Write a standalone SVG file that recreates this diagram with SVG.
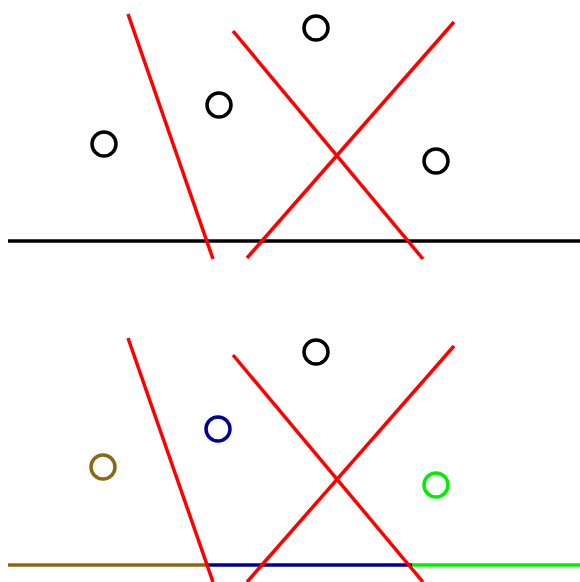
<svg xmlns="http://www.w3.org/2000/svg" width="580" height="582" viewBox="0 0 580 582">
<style>
.c{fill:none;stroke-width:3.5}
.r{stroke:#ff0000;stroke-width:3.5;fill:none}
.h{stroke-width:3.5;fill:none}
</style>
<rect width="580" height="582" fill="#fff"/>
<g id="connectors">
<line class="h" x1="8" y1="241" x2="580" y2="241" stroke="#000"/>
<line class="r" x1="128" y1="14" x2="213" y2="259"/>
<line class="r" x1="233" y1="31" x2="423" y2="259"/>
<line class="r" x1="454" y1="22" x2="247" y2="258"/>
<line class="h" x1="8" y1="565" x2="207" y2="565" stroke="#8b6914"/>
<line class="h" x1="207" y1="565" x2="412" y2="565" stroke="#000099"/>
<line class="h" x1="412" y1="565" x2="580" y2="565" stroke="#00ee00"/>
<line class="r" x1="128" y1="338" x2="213" y2="582"/>
<line class="r" x1="233" y1="355" x2="423" y2="582"/>
<line class="r" x1="454" y1="346" x2="247" y2="582"/>
</g>
<g id="n1"><circle class="c" cx="316" cy="28" r="12" stroke="#000"/></g>
<g id="n2"><circle class="c" cx="219" cy="105" r="12" stroke="#000"/></g>
<g id="n3"><circle class="c" cx="104" cy="144" r="12" stroke="#000"/></g>
<g id="n4"><circle class="c" cx="436" cy="161" r="12" stroke="#000"/></g>
<g id="n5"><circle class="c" cx="316" cy="352" r="12" stroke="#000"/></g>
<g id="n6"><circle class="c" cx="218" cy="429" r="12" stroke="#000099"/></g>
<g id="n7"><circle class="c" cx="103" cy="467" r="12" stroke="#8b6914"/></g>
<g id="n8"><circle class="c" cx="436" cy="485" r="12" stroke="#00ee00"/></g>
</svg>
